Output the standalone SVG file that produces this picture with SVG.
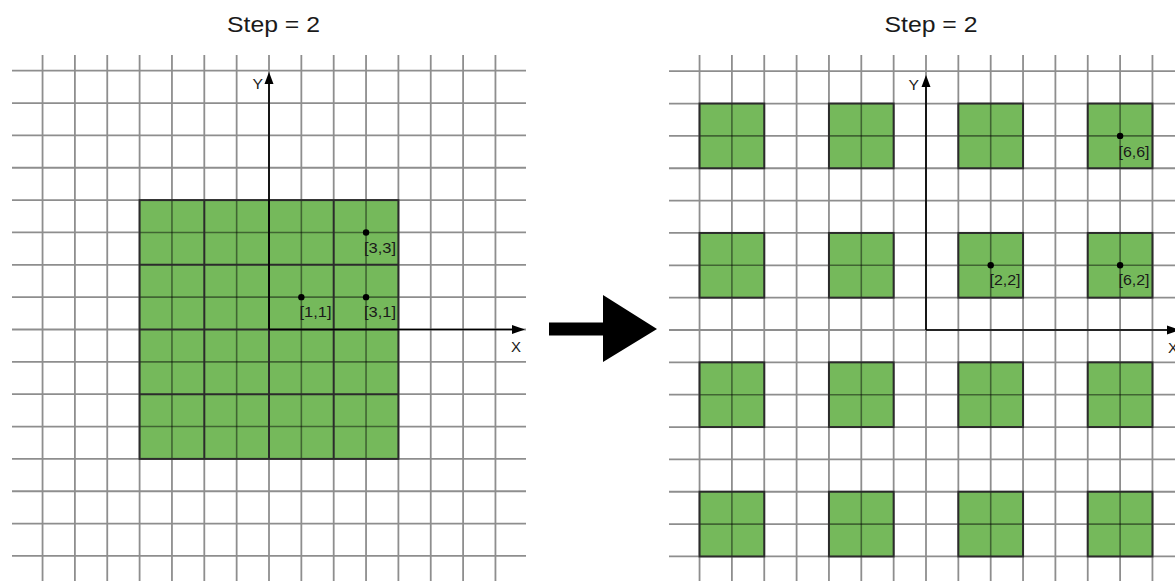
<svg xmlns="http://www.w3.org/2000/svg" width="1175" height="581" viewBox="0 0 1175 581">
<style>
.grid line{stroke:#8e8e8e;stroke-width:1.8}
.inner line{stroke:#000;stroke-opacity:.45;stroke-width:1.6}
.axis{stroke:#000;stroke-width:1.7;fill:none}
.head{fill:#000}
.t{font-family:"Liberation Sans",Arial,sans-serif;fill:#1a1a1a}
.title{font-size:22px}
.lbl{font-size:15px}
.ax{font-size:15px}
</style>
<rect width="1175" height="581" fill="#fff"/>
<g id="left-panel">
<g class="grid">
<line x1="42.55" y1="55" x2="42.55" y2="581"/><line x1="74.9" y1="55" x2="74.9" y2="581"/><line x1="107.25" y1="55" x2="107.25" y2="581"/><line x1="139.6" y1="55" x2="139.6" y2="581"/><line x1="171.95" y1="55" x2="171.95" y2="581"/><line x1="204.3" y1="55" x2="204.3" y2="581"/><line x1="236.65" y1="55" x2="236.65" y2="581"/><line x1="269" y1="55" x2="269" y2="581"/><line x1="301.35" y1="55" x2="301.35" y2="581"/><line x1="333.7" y1="55" x2="333.7" y2="581"/><line x1="366.05" y1="55" x2="366.05" y2="581"/><line x1="398.4" y1="55" x2="398.4" y2="581"/><line x1="430.75" y1="55" x2="430.75" y2="581"/><line x1="463.1" y1="55" x2="463.1" y2="581"/><line x1="495.45" y1="55" x2="495.45" y2="581"/>
<line x1="12" y1="70.7" x2="526" y2="70.7"/><line x1="12" y1="103.05" x2="526" y2="103.05"/><line x1="12" y1="135.4" x2="526" y2="135.4"/><line x1="12" y1="167.75" x2="526" y2="167.75"/><line x1="12" y1="200.1" x2="526" y2="200.1"/><line x1="12" y1="232.45" x2="526" y2="232.45"/><line x1="12" y1="264.8" x2="526" y2="264.8"/><line x1="12" y1="297.15" x2="526" y2="297.15"/><line x1="12" y1="329.5" x2="526" y2="329.5"/><line x1="12" y1="361.85" x2="526" y2="361.85"/><line x1="12" y1="394.2" x2="526" y2="394.2"/><line x1="12" y1="426.55" x2="526" y2="426.55"/><line x1="12" y1="458.9" x2="526" y2="458.9"/><line x1="12" y1="491.25" x2="526" y2="491.25"/><line x1="12" y1="523.6" x2="526" y2="523.6"/><line x1="12" y1="555.95" x2="526" y2="555.95"/>
</g>
<g id="left-green">
<rect x="139.6" y="200.1" width="258.8" height="258.8" fill="#75b95b"/>
<g class="inner">
<line x1="171.95" y1="200.1" x2="171.95" y2="458.9"/><line x1="236.65" y1="200.1" x2="236.65" y2="458.9"/><line x1="301.35" y1="200.1" x2="301.35" y2="458.9"/><line x1="366.05" y1="200.1" x2="366.05" y2="458.9"/>
<line x1="139.6" y1="232.45" x2="398.4" y2="232.45"/><line x1="139.6" y1="297.15" x2="398.4" y2="297.15"/><line x1="139.6" y1="361.85" x2="398.4" y2="361.85"/><line x1="139.6" y1="426.55" x2="398.4" y2="426.55"/>
</g>
<g fill="none" stroke="#2b2b2b" stroke-width="2">
<rect x="139.6" y="200.1" width="258.8" height="258.8"/>
<line x1="204.3" y1="200.1" x2="204.3" y2="458.9"/><line x1="269" y1="200.1" x2="269" y2="458.9"/><line x1="333.7" y1="200.1" x2="333.7" y2="458.9"/>
<line x1="139.6" y1="264.8" x2="398.4" y2="264.8"/><line x1="139.6" y1="329.5" x2="398.4" y2="329.5"/><line x1="139.6" y1="394.2" x2="398.4" y2="394.2"/>
</g>
</g>
<g id="left-axes">
<line class="axis" x1="269" y1="329.5" x2="269" y2="84"/>
<polygon class="head" points="269,72 264.5,84 273.5,84"/>
<line class="axis" x1="269" y1="329.5" x2="513" y2="329.5"/>
<polygon class="head" points="525,329.5 512,325 512,334"/>
<text class="t ax" x="252.5" y="88.5" textLength="10.5" lengthAdjust="spacingAndGlyphs">Y</text>
<text class="t ax" x="511" y="352" textLength="10" lengthAdjust="spacingAndGlyphs">X</text>
</g>
<g id="left-points">
<circle cx="301.35" cy="297.15" r="3.2"/>
<circle cx="366.05" cy="297.15" r="3.2"/>
<circle cx="366.05" cy="232.45" r="3.2"/>
<text class="t lbl" x="299.5" y="317" textLength="32" lengthAdjust="spacingAndGlyphs">[1,1]</text>
<text class="t lbl" x="364" y="317" textLength="32" lengthAdjust="spacingAndGlyphs">[3,1]</text>
<text class="t lbl" x="364" y="253" textLength="32" lengthAdjust="spacingAndGlyphs">[3,3]</text>
</g>
<text class="t title" x="227" y="32" textLength="93" lengthAdjust="spacingAndGlyphs">Step = 2</text>
</g>
<g id="transition-arrow">
<polygon points="549,322.5 603,322.5 603,295 657,329 603,362 603,335.5 549,335.5" fill="#000"/>
</g>
<g id="right-panel">
<g class="grid">
<line x1="699.55" y1="55" x2="699.55" y2="581"/><line x1="731.9" y1="55" x2="731.9" y2="581"/><line x1="764.25" y1="55" x2="764.25" y2="581"/><line x1="796.6" y1="55" x2="796.6" y2="581"/><line x1="828.95" y1="55" x2="828.95" y2="581"/><line x1="861.3" y1="55" x2="861.3" y2="581"/><line x1="893.65" y1="55" x2="893.65" y2="581"/><line x1="926" y1="55" x2="926" y2="581"/><line x1="958.35" y1="55" x2="958.35" y2="581"/><line x1="990.7" y1="55" x2="990.7" y2="581"/><line x1="1023.05" y1="55" x2="1023.05" y2="581"/><line x1="1055.4" y1="55" x2="1055.4" y2="581"/><line x1="1087.75" y1="55" x2="1087.75" y2="581"/><line x1="1120.1" y1="55" x2="1120.1" y2="581"/><line x1="1152.45" y1="55" x2="1152.45" y2="581"/>
<line x1="669" y1="71.2" x2="1175" y2="71.2"/><line x1="669" y1="103.55" x2="1175" y2="103.55"/><line x1="669" y1="135.9" x2="1175" y2="135.9"/><line x1="669" y1="168.25" x2="1175" y2="168.25"/><line x1="669" y1="200.6" x2="1175" y2="200.6"/><line x1="669" y1="232.95" x2="1175" y2="232.95"/><line x1="669" y1="265.3" x2="1175" y2="265.3"/><line x1="669" y1="297.65" x2="1175" y2="297.65"/><line x1="669" y1="330" x2="1175" y2="330"/><line x1="669" y1="362.35" x2="1175" y2="362.35"/><line x1="669" y1="394.7" x2="1175" y2="394.7"/><line x1="669" y1="427.05" x2="1175" y2="427.05"/><line x1="669" y1="459.4" x2="1175" y2="459.4"/><line x1="669" y1="491.75" x2="1175" y2="491.75"/><line x1="669" y1="524.1" x2="1175" y2="524.1"/><line x1="669" y1="556.45" x2="1175" y2="556.45"/>
</g>
<defs>
<g id="blk">
<rect x="0" y="0" width="64.7" height="64.7" fill="#75b95b"/>
<line x1="32.35" y1="0" x2="32.35" y2="64.7" stroke="#000" stroke-opacity=".45" stroke-width="1.6"/>
<line x1="0" y1="32.35" x2="64.7" y2="32.35" stroke="#000" stroke-opacity=".45" stroke-width="1.6"/>
<rect x="0" y="0" width="64.7" height="64.7" fill="none" stroke="#2b2b2b" stroke-width="2"/>
</g>
</defs>
<g id="right-green">
<use href="#blk" x="699.55" y="103.55"/><use href="#blk" x="828.95" y="103.55"/><use href="#blk" x="958.35" y="103.55"/><use href="#blk" x="1087.75" y="103.55"/>
<use href="#blk" x="699.55" y="232.95"/><use href="#blk" x="828.95" y="232.95"/><use href="#blk" x="958.35" y="232.95"/><use href="#blk" x="1087.75" y="232.95"/>
<use href="#blk" x="699.55" y="362.35"/><use href="#blk" x="828.95" y="362.35"/><use href="#blk" x="958.35" y="362.35"/><use href="#blk" x="1087.75" y="362.35"/>
<use href="#blk" x="699.55" y="491.75"/><use href="#blk" x="828.95" y="491.75"/><use href="#blk" x="958.35" y="491.75"/><use href="#blk" x="1087.75" y="491.75"/>
</g>
<g id="right-axes">
<line class="axis" x1="926" y1="330" x2="926" y2="87"/>
<polygon class="head" points="926,75 921.5,87 930.5,87"/>
<line class="axis" x1="926" y1="330" x2="1168" y2="330"/>
<polygon class="head" points="1180,330 1167,325.5 1167,334.5"/>
<text class="t ax" x="908.5" y="89.5" textLength="10.5" lengthAdjust="spacingAndGlyphs">Y</text>
<text class="t ax" x="1168" y="352.5" textLength="10" lengthAdjust="spacingAndGlyphs">X</text>
</g>
<g id="right-points">
<circle cx="990.7" cy="265.3" r="3.2"/>
<circle cx="1120.1" cy="265.3" r="3.2"/>
<circle cx="1120.1" cy="135.9" r="3.2"/>
<text class="t lbl" x="989.5" y="285" textLength="31" lengthAdjust="spacingAndGlyphs">[2,2]</text>
<text class="t lbl" x="1118.5" y="285" textLength="31" lengthAdjust="spacingAndGlyphs">[6,2]</text>
<text class="t lbl" x="1118.5" y="156.5" textLength="31" lengthAdjust="spacingAndGlyphs">[6,6]</text>
</g>
<text class="t title" x="884.5" y="32" textLength="93" lengthAdjust="spacingAndGlyphs">Step = 2</text>
</g>
</svg>
